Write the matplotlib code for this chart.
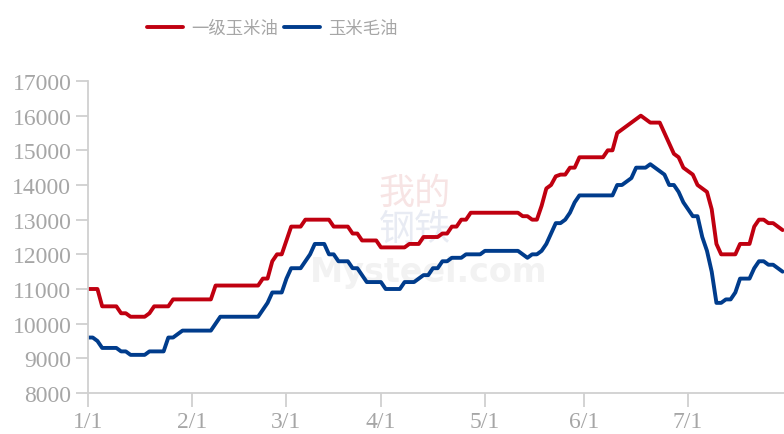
import matplotlib
matplotlib.use('Agg')
import matplotlib.pyplot as plt

# trading-day index, month ticks at these positions
tick_pos = [0, 22, 42, 62, 84, 105, 127]
tick_labels = ['1/1', '2/1', '3/1', '4/1', '5/1', '6/1', '7/1']

# 一级玉米油 (refined corn oil)
refined = [
  11000, 11000, 11000, 10500, 10500, 10500, 10500, 10300, 10300, 10200,
  10200, 10200, 10200, 10300, 10500, 10500, 10500, 10500, 10700, 10700,
  10700, 10700, 10700, 10700, 10700, 10700, 10700, 11100, 11100, 11100,
  11100, 11100, 11100, 11100, 11100, 11100, 11100, 11300, 11300, 11800,
  12000, 12000, 12400, 12800, 12800, 12800, 13000, 13000, 13000, 13000,
  13000, 13000, 12800, 12800, 12800, 12800, 12600, 12600, 12400, 12400,
  12400, 12400, 12200, 12200, 12200, 12200, 12200, 12200, 12300, 12300,
  12300, 12500, 12500, 12500, 12500, 12600, 12600, 12800, 12800, 13000,
  13000, 13200, 13200, 13200, 13200, 13200, 13200, 13200, 13200, 13200,
  13200, 13200, 13100, 13100, 13000, 13000, 13400, 13900, 14000, 14250,
  14300, 14300, 14500, 14500, 14800, 14800, 14800, 14800, 14800, 14800,
  15000, 15000, 15500, 15600, 15700, 15800, 15900, 16000, 15900, 15800,
  15800, 15800, 15500, 15200, 14900, 14800, 14500, 14400, 14300, 14000,
  13900, 13800, 13300, 12300, 12000, 12000, 12000, 12000, 12300, 12300,
  12300, 12800, 13000, 13000, 12900, 12900, 12800, 12700,
]

# 玉米毛油 (crude corn oil)
crude = [
  9600, 9600, 9500, 9300, 9300, 9300, 9300, 9200, 9200, 9100,
  9100, 9100, 9100, 9200, 9200, 9200, 9200, 9600, 9600, 9700,
  9800, 9800, 9800, 9800, 9800, 9800, 9800, 10000, 10200, 10200,
  10200, 10200, 10200, 10200, 10200, 10200, 10200, 10400, 10600, 10900,
  10900, 10900, 11300, 11600, 11600, 11600, 11800, 12000, 12300, 12300,
  12300, 12000, 12000, 11800, 11800, 11800, 11600, 11600, 11400, 11200,
  11200, 11200, 11200, 11000, 11000, 11000, 11000, 11200, 11200, 11200,
  11300, 11400, 11400, 11600, 11600, 11800, 11800, 11900, 11900, 11900,
  12000, 12000, 12000, 12000, 12100, 12100, 12100, 12100, 12100, 12100,
  12100, 12100, 12000, 11900, 12000, 12000, 12100, 12300, 12600, 12900,
  12900, 13000, 13200, 13500, 13700, 13700, 13700, 13700, 13700, 13700,
  13700, 13700, 14000, 14000, 14100, 14200, 14500, 14500, 14500, 14600,
  14500, 14400, 14300, 14000, 14000, 13800, 13500, 13300, 13100, 13100,
  12500, 12100, 11500, 10600, 10600, 10700, 10700, 10900, 11300, 11300,
  11300, 11600, 11800, 11800, 11700, 11700, 11600, 11500,
]

red = '#C00010'
blue = '#003C8C'
grey = '#A6A6A6'
spine = '#D0D0D0'

fig = plt.figure(figsize=(7.84, 4.35), dpi=100)
ax = fig.add_axes([88 / 784, 41 / 435, 1 - 88 / 784, 312 / 435])

x = list(range(len(refined)))
l1, = ax.plot(x, refined, color=red, lw=2.8, solid_capstyle='round', label='一级玉米油')
l2, = ax.plot(range(len(crude)), crude, color=blue, lw=2.8, solid_capstyle='round', label='玉米毛油')

# faint watermark
cjk = ['Noto Sans CJK SC', 'DejaVu Sans']
ax.text(0.47, 0.64, '我的', transform=ax.transAxes, fontsize=26, color='#F7E4E4',
        family=cjk, ha='center', va='center', zorder=0)
ax.text(0.47, 0.525, '钢铁', transform=ax.transAxes, fontsize=26, color='#E8EBF3',
        family=cjk, ha='center', va='center', zorder=0)
ax.text(0.49, 0.39, 'Mysteel.com', transform=ax.transAxes, fontsize=24, color='#F2F2F2',
        fontweight='bold', ha='center', va='center', zorder=0)

ax.set_xlim(0, 147.3)
ax.set_ylim(8000, 17000)
ax.set_yticks(range(8000, 17001, 1000))
ax.set_xticks(tick_pos)
ax.set_xticklabels(tick_labels)

for s in ['top', 'right']:
  ax.spines[s].set_visible(False)
for s in ['left', 'bottom']:
  ax.spines[s].set_color(spine)
  ax.spines[s].set_linewidth(1.3)

ax.tick_params(axis='y', direction='out', length=9, width=1.3, color=spine,
               labelsize=17, labelcolor=grey, pad=3)
ax.tick_params(axis='x', direction='out', length=10, width=1.3, color=spine,
               labelsize=17, labelcolor=grey, pad=3)
for lab in ax.get_xticklabels() + ax.get_yticklabels():
  lab.set_family('Liberation Serif')

fig.legend(handles=[l1, l2], loc='upper center', bbox_to_anchor=(0.347, 0.99), ncol=2,
           frameon=False, handlelength=2.1, handletextpad=0.45, columnspacing=0.35,
           prop={'family': cjk, 'size': 12.5}, labelcolor=grey)

fig.savefig('out.png', dpi=100)
